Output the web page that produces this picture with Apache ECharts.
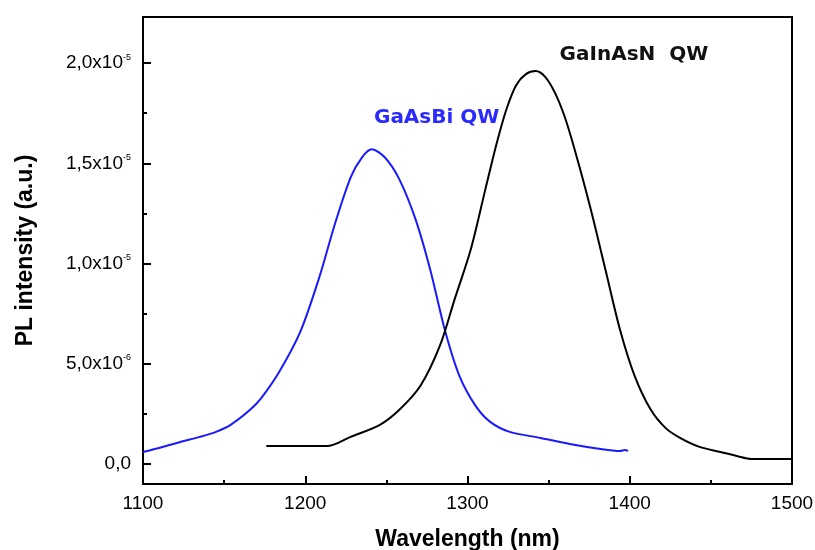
<!DOCTYPE html>
<html>
<head>
<meta charset="utf-8">
<script src="https://cdn.jsdelivr.net/npm/echarts@6/dist/echarts.min.js"></script>
<style>
html,body{margin:0;padding:0;background:#fff;}
#chart{width:815px;height:550px;}
</style>
</head>
<body>
<div id="chart"></div>
<script>
// GaAsBi QW (blue)
var gaasbiWavelength = [1100, 1112, 1123, 1135, 1145, 1154, 1166, 1173, 1184, 1197, 1209, 1218, 1228, 1235, 1241, 1249, 1258, 1268, 1277, 1286, 1295, 1305, 1314, 1326, 1345, 1363, 1382, 1394, 1397, 1399];
var gaasbiIntensity = [0.6e-6, 0.85e-6, 1.1e-6, 1.35e-6, 1.6e-6, 1.95e-6, 2.7e-6, 3.3e-6, 4.6e-6, 6.6e-6, 9.4e-6, 1.19e-5, 1.43e-5, 1.53e-5, 1.57e-5, 1.53e-5, 1.42e-5, 1.22e-5, 0.97e-5, 0.67e-5, 0.44e-5, 0.29e-5, 0.21e-5, 0.16e-5, 0.13e-5, 0.10e-5, 0.075e-5, 0.065e-5, 0.07e-5, 0.065e-5];
// GaInAsN QW (black)
var gainasnWavelength = [1176, 1195, 1214, 1228, 1246, 1258, 1271, 1283, 1292, 1302, 1311, 1318, 1324, 1330, 1336, 1342, 1348, 1354, 1360, 1366, 1376, 1385, 1394, 1403, 1413, 1422, 1431, 1443, 1456, 1466, 1475, 1500];
var gainasnIntensity = [0.09e-5, 0.09e-5, 0.09e-5, 0.135e-5, 0.195e-5, 0.27e-5, 0.39e-5, 0.59e-5, 0.82e-5, 1.07e-5, 1.37e-5, 1.60e-5, 1.77e-5, 1.89e-5, 1.945e-5, 1.96e-5, 1.93e-5, 1.85e-5, 1.73e-5, 1.57e-5, 1.27e-5, 0.97e-5, 0.67e-5, 0.44e-5, 0.27e-5, 0.18e-5, 0.13e-5, 0.085e-5, 0.06e-5, 0.04e-5, 0.025e-5, 0.025e-5];
// Tick labels
var xTicks = [1100, 1200, 1300, 1400, 1500];
var yTickValues = [0, 5e-6, 1e-5, 1.5e-5, 2e-5];
var yTickLabels = ['0,0', '5,0x10|-6', '1,0x10|-5', '1,5x10|-5', '2,0x10|-5'];
var yMinorTicks = [2.5e-6, 7.5e-6, 1.25e-5, 1.75e-5];
var labelBlue = 'GaAsBi QW';
var labelBlack = 'GaInAsN  QW';

function pairs(xs, ys) { return xs.map(function (x, i) { return [x, ys[i]]; }); }

var FONT = 'Liberation Sans, Arial, sans-serif';
var chart = echarts.init(document.getElementById('chart'), null, {renderer: 'canvas'});
chart.setOption({
  animation: false,
  backgroundColor: '#ffffff',
  grid: {left: 143, right: 23, top: 17, bottom: 66, containLabel: false, outerBoundsMode: 'none',
    show: true, borderColor: '#000', borderWidth: 2, backgroundColor: 'transparent'},
  xAxis: {
    type: 'value', min: 1100, max: 1500, interval: 100,
    axisLine: {show: true, onZero: false, lineStyle: {color: '#000', width: 2}},
    axisTick: {show: true, inside: true, length: 8, lineStyle: {color: '#000', width: 2}},
    minorTick: {show: true, splitNumber: 2, length: 4, lineStyle: {color: '#000', width: 2}},
    splitLine: {show: false},
    axisLabel: {color: '#000', fontFamily: FONT, fontSize: 19, margin: 10,
      formatter: function (v) { return xTicks.indexOf(v) >= 0 ? String(v) : ''; }},
    name: 'Wavelength (nm)', nameLocation: 'middle', nameGap: 44,
    nameTextStyle: {color: '#000', fontFamily: FONT, fontSize: 23, fontWeight: 'bold'}
  },
  yAxis: [{
    type: 'value', min: -1e-6, max: 2.23e-5,
    axisLine: {show: true, onZero: false, lineStyle: {color: '#000', width: 2}},
    axisTick: {show: true, inside: true, length: 8, customValues: yTickValues, lineStyle: {color: '#000', width: 2}},
    splitLine: {show: false},
    axisLabel: {
      customValues: yTickValues, margin: 12, color: '#000', fontFamily: FONT, fontSize: 19,
      formatter: function (v) {
        var idx = -1;
        for (var i = 0; i < yTickValues.length; i++) { if (Math.abs(yTickValues[i] - v) < 1e-9) idx = i; }
        if (idx < 0) return '';
        var parts = yTickLabels[idx].split('|');
        if (parts.length === 1) return '{m|' + parts[0] + '}';
        return '{m|' + parts[0] + '}{s|' + parts[1] + '}';
      },
      rich: {
        m: {fontFamily: FONT, fontSize: 19, color: '#000'},
        s: {fontFamily: FONT, fontSize: 9, color: '#000', verticalAlign: 'top', padding: [0, 0, 12, 0]}
      }
    },
    name: 'PL intensity (a.u.)', nameLocation: 'middle', nameGap: 106,
    nameTextStyle: {color: '#000', fontFamily: FONT, fontSize: 23, fontWeight: 'bold'}
  }, {
    type: 'value', min: -1e-6, max: 2.23e-5, position: 'left',
    axisLine: {show: false},
    axisTick: {show: true, inside: true, length: 4, customValues: yMinorTicks, lineStyle: {color: '#000', width: 2}},
    axisLabel: {show: false},
    splitLine: {show: false}
  }],
  series: [{
    type: 'line', name: labelBlue, data: pairs(gaasbiWavelength, gaasbiIntensity),
    smooth: 0.3, showSymbol: false, lineStyle: {color: '#1a1aff', width: 2}, itemStyle: {color: '#1a1aff'},
    markPoint: {symbol: 'circle', symbolSize: 0, data: [{coord: [1281, 1.726e-5], value: labelBlue}],
      label: {show: true, position: 'inside', formatter: labelBlue, color: '#2a2aff', fontFamily: 'DejaVu Sans, sans-serif', fontWeight: 'bold', fontSize: 20}}
  }, {
    type: 'line', name: labelBlack, data: pairs(gainasnWavelength, gainasnIntensity),
    smooth: 0.3, showSymbol: false, lineStyle: {color: '#000', width: 2}, itemStyle: {color: '#000'},
    markPoint: {symbol: 'circle', symbolSize: 0, data: [{coord: [1402.6, 2.04e-5], value: labelBlack}],
      label: {show: true, position: 'inside', formatter: labelBlack, color: '#111', fontFamily: 'DejaVu Sans, sans-serif', fontWeight: 'bold', fontSize: 20}}
  }]
});
</script>
</body>
</html>
